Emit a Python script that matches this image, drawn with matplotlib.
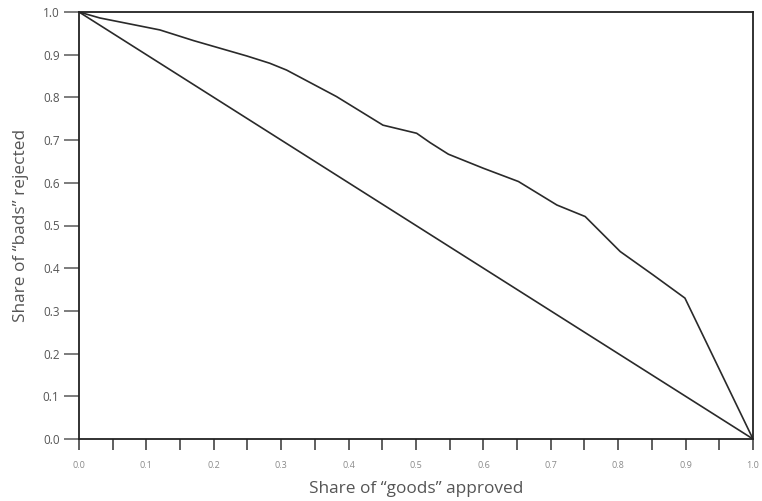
import matplotlib
matplotlib.use("Agg")
import matplotlib.pyplot as plt
import numpy as np

plt.rcParams['font.family'] = ['Open Sans', 'DejaVu Sans']

# Curve: share of goods approved vs share of bads rejected
goods_approved = [0.0, 0.031, 0.066, 0.120, 0.170, 0.249, 0.283, 0.308, 0.382,
                  0.451, 0.501, 0.521, 0.548, 0.600, 0.652, 0.709, 0.751,
                  0.803, 0.852, 0.899, 1.0]
bads_rejected = [1.0, 0.986, 0.975, 0.958, 0.933, 0.897, 0.880, 0.864, 0.802,
                 0.735, 0.716, 0.694, 0.667, 0.634, 0.603, 0.548, 0.521,
                 0.439, 0.384, 0.330, 0.0]
diag_x = [0.0, 1.0]
diag_y = [1.0, 0.0]

x_ticks = [round(0.05 * i, 2) for i in range(21)]
x_labels = [f"{v:.1f}" if i % 2 == 0 else "" for i, v in enumerate(x_ticks)]
y_ticks = [round(0.1 * i, 1) for i in range(11)]
y_labels = [f"{v:.1f}" for v in y_ticks]

fig = plt.figure(figsize=(7.62, 5.01), dpi=100)
ax = fig.add_axes([79/762, 62/501, 674/762, 427/501])

ax.plot(goods_approved, bads_rejected, color='#2a2a2a', lw=1.2)
ax.plot(diag_x, diag_y, color='#2a2a2a', lw=1.2)

ax.set_xlim(0, 1)
ax.set_ylim(0, 1)
for s in ax.spines.values():
    s.set_color('#222222')
    s.set_linewidth(1.3)

ax.set_xticks(x_ticks)
ax.set_xticklabels(x_labels, fontsize=6.5, color='#8a8a8a')
ax.set_yticks(y_ticks)
ax.set_yticklabels(y_labels, fontsize=8.5, color='#555555')
ax.tick_params(axis='x', direction='out', length=8, width=1.2, color='#444444', pad=8)
ax.tick_params(axis='y', direction='out', length=11, width=1.2, color='#666666', pad=3)

ax.set_xlabel('Share of \u201cgoods\u201d approved', fontsize=12.4, color='#555555', labelpad=8)
ax.set_ylabel('Share of \u201cbads\u201d rejected', fontsize=12.4, color='#555555', labelpad=10)

fig.savefig('out.png', dpi=100, facecolor='white')
